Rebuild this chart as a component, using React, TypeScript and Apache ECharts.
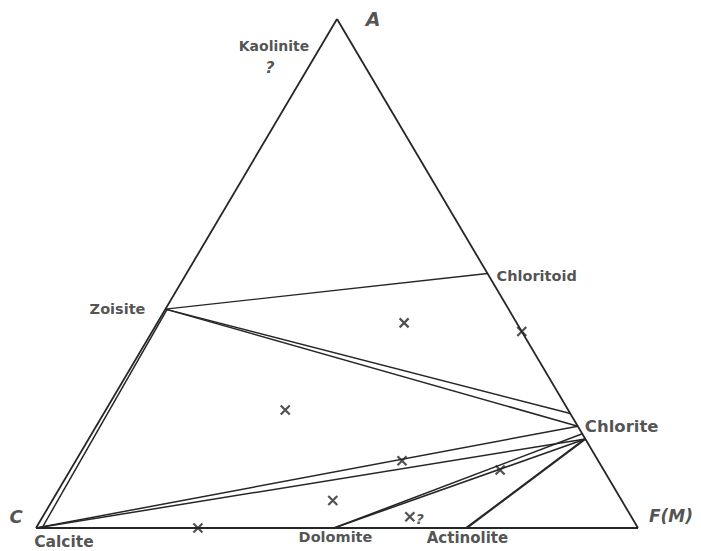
import React, { useEffect, useRef } from "react";
import * as echarts from "echarts";

// Ternary compositions in percent: A (top), F(M) (right). C = 100 - A - F.
const vertexNames = ["A", "C", "F(M)"];
const vertexA = [100, 0, 0];
const vertexF = [0, 0, 100];

const mineralNames = ["Kaolinite", "Zoisite", "Chloritoid", "Chlorite", "Calcite", "Dolomite", "Actinolite"];
const mineralA = [100, 43, 50, 20, 0, 0, 0];
const mineralF = [0, 0, 50, 80, 0, 49.5, 71.5];

// Tie lines (from -> to)
const tieFromA = [43, 43, 43, 0, 0, 0, 0, 0, 0];
const tieFromF = [0, 0, 0, 1.0, 0, 0, 49.5, 49.5, 71.5];
const tieToA = [50, 22.5, 20, 43, 20, 17.5, 17.5, 18.5, 17.5];
const tieToF = [50, 77.5, 80, 0.3, 80, 82.5, 82.5, 81.5, 82.5];
const tieWidth = [1.4, 1.5, 1.5, 1.5, 1.5, 1.5, 1.6, 1.6, 2.2];

// Analysed assemblages (x marks)
const markerA = [40.3, 38.6, 23.2, 13.2, 11.4, 5.4, 0, 2.2];
const markerF = [41.0, 61.4, 29.8, 54.2, 71.4, 46.6, 26.9, 61.0];
const markerNote = ["", "", "", "", "", "", "", "?"];

const toXY = (a: number, f: number) => [f + a / 2, a];

const FONT = "DejaVu Sans";
const INK = "#262626";

export default function App() {
  const ref = useRef<HTMLDivElement>(null);
  useEffect(() => {
    if (!ref.current) return;
    const chart = echarts.init(ref.current, undefined, { renderer: "svg" });

    const edges = [
      [0, 1],
      [1, 2],
      [2, 0],
    ].map(([i, j]) => ({
      coords: [toXY(vertexA[i], vertexF[i]), toXY(vertexA[j], vertexF[j])],
    }));

    const ties = tieFromA.map((_, i) => ({
      coords: [toXY(tieFromA[i], tieFromF[i]), toXY(tieToA[i], tieToF[i])],
      lineStyle: { width: tieWidth[i] },
    }));

    const markers = markerA.map((a, i) => ({
      value: toXY(a, markerF[i]),
      label: {
        show: markerNote[i] !== "",
        formatter: markerNote[i],
        position: "inside",
        align: "left",
        verticalAlign: "middle",
        offset: [6, 2],
        fontFamily: FONT,
        fontWeight: "bold",
        fontStyle: "italic",
        fontSize: 14,
        color: INK,
      },
    }));

    const baseLabel = {
      show: true,
      position: "inside",
      verticalAlign: "middle",
      fontFamily: FONT,
      fontWeight: "bold",
      color: INK,
    };

    const vertexLabelStyle: any[] = [
      { offset: [36, 0], align: "center", fontSize: 19 },
      { offset: [-20, -12], align: "center", fontSize: 18 },
      { offset: [33, -12], align: "center", fontSize: 17 },
    ];
    const vertexLabels = vertexNames.map((n, i) => ({
      value: toXY(vertexA[i], vertexF[i]),
      label: { ...baseLabel, formatter: n, fontStyle: "italic", ...vertexLabelStyle[i] },
    }));

    const mineralLabelStyle: any[] = [
      { offset: [-63, 27], align: "center", fontSize: 14 },
      { offset: [-20, 0], align: "right", fontSize: 14.5 },
      { offset: [9, 2], align: "left", fontSize: 14.5 },
      { offset: [7, 0], align: "left", fontSize: 16.5 },
      { offset: [28, 14], align: "center", fontSize: 15.5 },
      { offset: [1.5, 9], align: "center", fontSize: 14.5 },
      { offset: [1, 10], align: "center", fontSize: 15 },
    ];
    const mineralLabels = mineralNames.map((n, i) => ({
      value: toXY(mineralA[i], mineralF[i]),
      label: { ...baseLabel, formatter: n, ...mineralLabelStyle[i] },
    }));
    const kaoliniteQuery = {
      value: toXY(mineralA[0], mineralF[0]),
      label: { ...baseLabel, formatter: "?", fontStyle: "italic", offset: [-67, 48], align: "center", fontSize: 16 },
    };

    chart.setOption({
      animation: false,
      backgroundColor: "#ffffff",
      grid: { left: 36, top: 19, width: 602, height: 509 },
      xAxis: { type: "value", min: 0, max: 100, show: false },
      yAxis: { type: "value", min: 0, max: 100, show: false },
      series: [
        {
          type: "lines",
          coordinateSystem: "cartesian2d",
          silent: true,
          lineStyle: { color: INK, width: 1.8, opacity: 1 },
          data: edges,
        },
        {
          type: "lines",
          coordinateSystem: "cartesian2d",
          silent: true,
          lineStyle: { color: INK, width: 1.5, opacity: 1 },
          data: ties,
        },
        {
          type: "scatter",
          silent: true,
          symbol: "path://M0,0L10,10M0,10L10,0",
          symbolSize: 9,
          itemStyle: { color: "transparent", borderColor: INK, borderWidth: 2.2 },
          data: markers,
        },
        {
          type: "scatter",
          silent: true,
          symbolSize: 1,
          itemStyle: { color: "rgba(0,0,0,0)" },
          data: [...vertexLabels, ...mineralLabels, kaoliniteQuery],
        },
      ],
    });
    return () => chart.dispose();
  }, []);
  return (
    <div
      ref={ref}
      style={{ position: "absolute", left: 0, top: 0, width: 701, height: 551, background: "#fff" }}
    />
  );
}
